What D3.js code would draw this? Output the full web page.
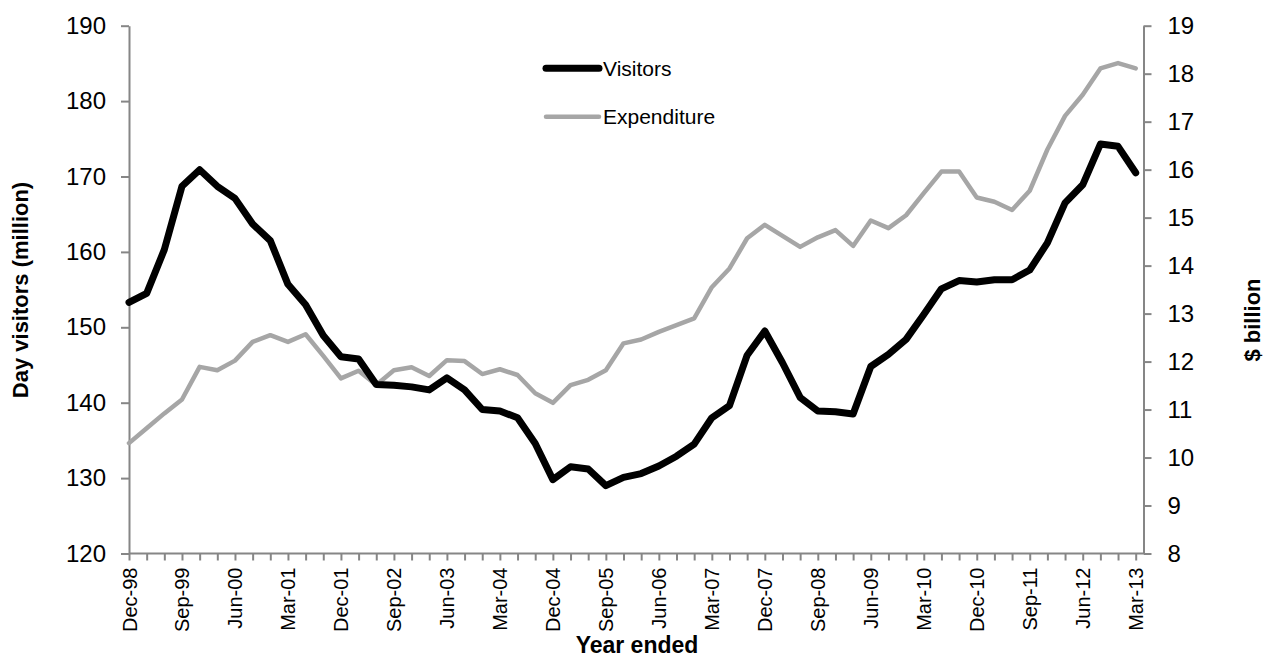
<!DOCTYPE html>
<html><head><meta charset="utf-8">
<script src="https://cdn.jsdelivr.net/npm/d3@7"></script>
<style>
html,body{margin:0;padding:0;background:#fff;}
svg{display:block;font-family:"Liberation Sans",Arial,sans-serif;}
</style></head>
<body>
<svg id="chart" width="1273" height="661"></svg>
<script>
const categories = ["Dec-98","Mar-99","Jun-99","Sep-99","Dec-99","Mar-00","Jun-00","Sep-00","Dec-00","Mar-01","Jun-01","Sep-01","Dec-01","Mar-02","Jun-02","Sep-02","Dec-02","Mar-03","Jun-03","Sep-03","Dec-03","Mar-04","Jun-04","Sep-04","Dec-04","Mar-05","Jun-05","Sep-05","Dec-05","Mar-06","Jun-06","Sep-06","Dec-06","Mar-07","Jun-07","Sep-07","Dec-07","Mar-08","Jun-08","Sep-08","Dec-08","Mar-09","Jun-09","Sep-09","Dec-09","Mar-10","Jun-10","Sep-10","Dec-10","Mar-11","Jun-11","Sep-11","Dec-11","Mar-12","Jun-12","Sep-12","Dec-12","Mar-13"];
const tickLabels = ["Dec-98","Sep-99","Jun-00","Mar-01","Dec-01","Sep-02","Jun-03","Mar-04","Dec-04","Sep-05","Jun-06","Mar-07","Dec-07","Sep-08","Jun-09","Mar-10","Dec-10","Sep-11","Jun-12","Mar-13"];
const visitors = [153.3,154.5,160.3,168.7,170.9,168.7,167.1,163.7,161.5,155.7,153.0,148.9,146.1,145.8,142.4,142.3,142.1,141.7,143.3,141.7,139.1,138.9,138.0,134.6,129.8,131.5,131.2,129.0,130.1,130.6,131.6,132.9,134.5,138.0,139.6,146.3,149.5,145.3,140.7,138.9,138.8,138.5,144.8,146.4,148.4,151.7,155.1,156.2,156.0,156.3,156.3,157.6,161.2,166.5,168.9,174.3,174.0,170.5];
const expenditure = [10.30,10.61,10.92,11.21,11.89,11.82,12.02,12.41,12.55,12.41,12.57,12.12,11.65,11.81,11.51,11.82,11.88,11.70,12.03,12.01,11.74,11.84,11.72,11.34,11.14,11.51,11.62,11.82,12.38,12.46,12.62,12.76,12.90,13.55,13.94,14.57,14.85,14.62,14.39,14.59,14.74,14.41,14.94,14.78,15.05,15.51,15.96,15.96,15.42,15.33,15.16,15.56,16.42,17.12,17.56,18.11,18.22,18.11];
const leftTicks = [120,130,140,150,160,170,180,190];
const rightTicks = [8,9,10,11,12,13,14,15,16,17,18,19];
const seriesNames = ["Visitors","Expenditure"];

const svg = d3.select("#chart");
const axisColor = "#868686";
const plotLeft = 129, plotRight = 1143.5, lastX = 1135.7, plotTop = 25.7, plotBottom = 553.5;

const x = d3.scalePoint().domain(categories).range([plotLeft, lastX]);
const yL = d3.scaleLinear().domain([120,190]).range([plotBottom, plotTop]);
const yR = d3.scaleLinear().domain([8,19]).range([plotBottom, plotTop]);

function styleAxis(g){
  g.select(".domain").attr("stroke", axisColor).attr("stroke-width", 2);
  g.selectAll(".tick line").attr("stroke", axisColor).attr("stroke-width", 2);
  g.selectAll(".tick text").attr("fill", "#000");
}

// left axis
const gL = svg.append("g").attr("transform", `translate(${plotLeft},0)`)
  .call(d3.axisLeft(yL).tickValues(leftTicks).tickSize(8).tickSizeOuter(0).tickPadding(15));
styleAxis(gL);
gL.selectAll(".tick text").attr("font-size", 24).attr("font-family", "Liberation Sans, Arial, sans-serif");

// right axis
const gR = svg.append("g").attr("transform", `translate(${plotRight},0)`)
  .call(d3.axisRight(yR).tickValues(rightTicks).tickSize(8).tickSizeOuter(0).tickPadding(16));
styleAxis(gR);
gR.selectAll(".tick text").attr("font-size", 24).attr("font-family", "Liberation Sans, Arial, sans-serif");

// bottom axis
const gB = svg.append("g").attr("transform", `translate(0,${plotBottom})`)
  .call(d3.axisBottom(x).tickSize(7).tickSizeOuter(0)
    .tickFormat(d => tickLabels.includes(d) ? d : ""));
gB.select(".domain").attr("d", `M${plotLeft},0H${plotRight}`);
styleAxis(gB);
gB.selectAll(".tick text")
  .attr("font-size", 20).attr("font-family", "Liberation Sans, Arial, sans-serif")
  .attr("text-anchor", "end")
  .attr("transform", "rotate(-90)")
  .attr("x", -14).attr("y", 0).attr("dy", "0.35em");

// lines
const lineL = d3.line().x((d,i) => x(categories[i])).y(d => yL(d));
const lineR = d3.line().x((d,i) => x(categories[i])).y(d => yR(d));

svg.append("path").datum(expenditure).attr("d", lineR)
  .attr("fill", "none").attr("stroke", "#a6a6a6").attr("stroke-width", 4.5)
  .attr("stroke-linejoin", "round").attr("stroke-linecap", "round");
svg.append("path").datum(visitors).attr("d", lineL)
  .attr("fill", "none").attr("stroke", "#000").attr("stroke-width", 7)
  .attr("stroke-linejoin", "round").attr("stroke-linecap", "round");

// legend
const legend = svg.append("g");
const legItems = [
  {name: seriesNames[0], color: "#000", w: 7, y: 68.3},
  {name: seriesNames[1], color: "#a6a6a6", w: 4.5, y: 116.7}
];
legItems.forEach(it => {
  legend.append("line").attr("x1", 546).attr("x2", 599).attr("y1", it.y).attr("y2", it.y)
    .attr("stroke", it.color).attr("stroke-width", it.w).attr("stroke-linecap", "round");
  legend.append("text").attr("x", 603).attr("y", it.y + 7.5)
    .attr("font-size", 21).attr("fill", "#000").text(it.name);
});

// axis titles
svg.append("text").attr("x", 637).attr("y", 653).attr("text-anchor", "middle")
  .attr("font-size", 23).attr("font-weight", "bold").text("Year ended");
svg.append("text").attr("transform", "translate(28,290) rotate(-90)").attr("text-anchor", "middle")
  .attr("font-size", 22).attr("font-weight", "bold").text("Day visitors (million)");
svg.append("text").attr("transform", "translate(1260,320) rotate(-90)").attr("text-anchor", "middle")
  .attr("font-size", 22).attr("font-weight", "bold").text("$ billion");
</script>
</body></html>
